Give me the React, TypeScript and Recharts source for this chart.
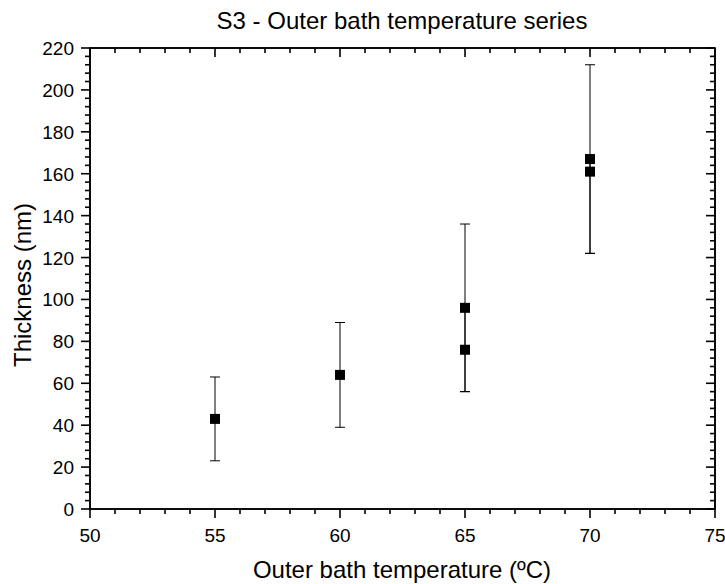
import { ErrorBar, ReferenceLine, Scatter, ScatterChart, XAxis, YAxis } from 'recharts'

const temperatures = [55, 60, 65, 65, 70, 70]
const thickness = [43, 64, 96, 76, 167, 161]
const errLow = [20, 25, 40, 20, 45, 39]
const errHigh = [20, 25, 40, 20, 45, 6]

const xMajorTicks = [50, 55, 60, 65, 70, 75]
const yMajorTicks = [0, 20, 40, 60, 80, 100, 120, 140, 160, 180, 200, 220]

const xTicks: number[] = []
for (let v = 50; v <= 75; v += 1) xTicks.push(v)
const yTicks: number[] = []
for (let v = 0; v <= 220; v += 4) yTicks.push(v)

const data = temperatures.map((t, i) => ({
  temp: t,
  thickness: thickness[i],
  err: [errLow[i], errHigh[i]],
}))

const FONT = 'Arial, "Liberation Sans", sans-serif'
const MAJOR = 9
const MINOR = 5

// chart geometry, used for the mirrored ticks on the top and right edges
const W = 725
const H = 584
const MARGIN = { top: 48, right: 10, bottom: 0, left: 0 }
const X_AXIS_H = 75
const Y_AXIS_W = 90
const PLOT_W = W - MARGIN.left - MARGIN.right - Y_AXIS_W
const PLOT_H = H - MARGIN.top - MARGIN.bottom - X_AXIS_H

const BottomTick = ({ x, y, payload }: any) => {
  const major = xMajorTicks.includes(payload.value)
  const len = major ? MAJOR : MINOR
  const top = y - PLOT_H
  return (
    <g>
      <line x1={x} x2={x} y1={y} y2={y + len} stroke="#000" strokeWidth={1.6} />
      <line x1={x} x2={x} y1={top} y2={top + len} stroke="#000" strokeWidth={1.6} />
      {major && (
        <text x={x} y={y + 33} textAnchor="middle" fontSize={19} fontFamily={FONT} fill="#000">
          {payload.value}
        </text>
      )}
    </g>
  )
}

const LeftTick = ({ x, y, payload }: any) => {
  const major = yMajorTicks.includes(payload.value)
  const len = major ? MAJOR : MINOR
  const right = x + PLOT_W
  return (
    <g>
      <line x1={x - len} x2={x} y1={y} y2={y} stroke="#000" strokeWidth={1.6} />
      <line x1={right - len} x2={right} y1={y} y2={y} stroke="#000" strokeWidth={1.6} />
      {major && (
        <text x={x - 16} y={y + 7} textAnchor="end" fontSize={19} fontFamily={FONT} fill="#000">
          {payload.value}
        </text>
      )}
    </g>
  )
}

const SquareMarker = ({ cx, cy }: any) => <rect x={cx - 5} y={cy - 5} width={10} height={10} fill="#000" />

export default function App() {
  return (
    <div style={{ position: 'absolute', left: 0, top: 0, width: W, height: H, background: '#fff' }}>
      <ScatterChart width={W} height={H} margin={MARGIN}>
        <XAxis
          dataKey="temp"
          type="number"
          domain={[50, 75]}
          ticks={xTicks}
          interval={0}
          height={X_AXIS_H}
          tickSize={0}
          tickMargin={0}
          tickLine={false}
          axisLine={{ stroke: '#000', strokeWidth: 1.6 }}
          tick={(p: any) => <BottomTick {...p} />}
        />
        <YAxis
          dataKey="thickness"
          type="number"
          domain={[0, 220]}
          ticks={yTicks}
          interval={0}
          width={Y_AXIS_W}
          tickSize={0}
          tickMargin={0}
          tickLine={false}
          axisLine={{ stroke: '#000', strokeWidth: 1.6 }}
          tick={(p: any) => <LeftTick {...p} />}
        />
        <ReferenceLine y={220} stroke="#000" strokeWidth={1.6} ifOverflow="visible" />
        <ReferenceLine x={75} stroke="#000" strokeWidth={1.6} ifOverflow="visible" />
        <Scatter data={data} shape={(p: any) => <SquareMarker {...p} />} isAnimationActive={false}>
          <ErrorBar dataKey="err" direction="y" width={5} stroke="#000" strokeWidth={1} isAnimationActive={false} />
        </Scatter>
      </ScatterChart>
      <svg width={W} height={H} style={{ position: 'absolute', left: 0, top: 0, pointerEvents: 'none' }}>
        <rect
          x={MARGIN.left + Y_AXIS_W}
          y={MARGIN.top}
          width={PLOT_W}
          height={PLOT_H}
          fill="none"
          stroke="#000"
          strokeWidth={1.6}
        />
        <text x={402} y={29} textAnchor="middle" fontSize={24} fontFamily={FONT} fill="#000">
          S3 - Outer bath temperature series
        </text>
        <text x={402} y={578} textAnchor="middle" fontSize={24} fontFamily={FONT} fill="#000">
          Outer bath temperature (ºC)
        </text>
        <text transform="translate(31, 285) rotate(-90)" textAnchor="middle" fontSize={24} fontFamily={FONT} fill="#000">
          Thickness (nm)
        </text>
      </svg>
    </div>
  )
}
